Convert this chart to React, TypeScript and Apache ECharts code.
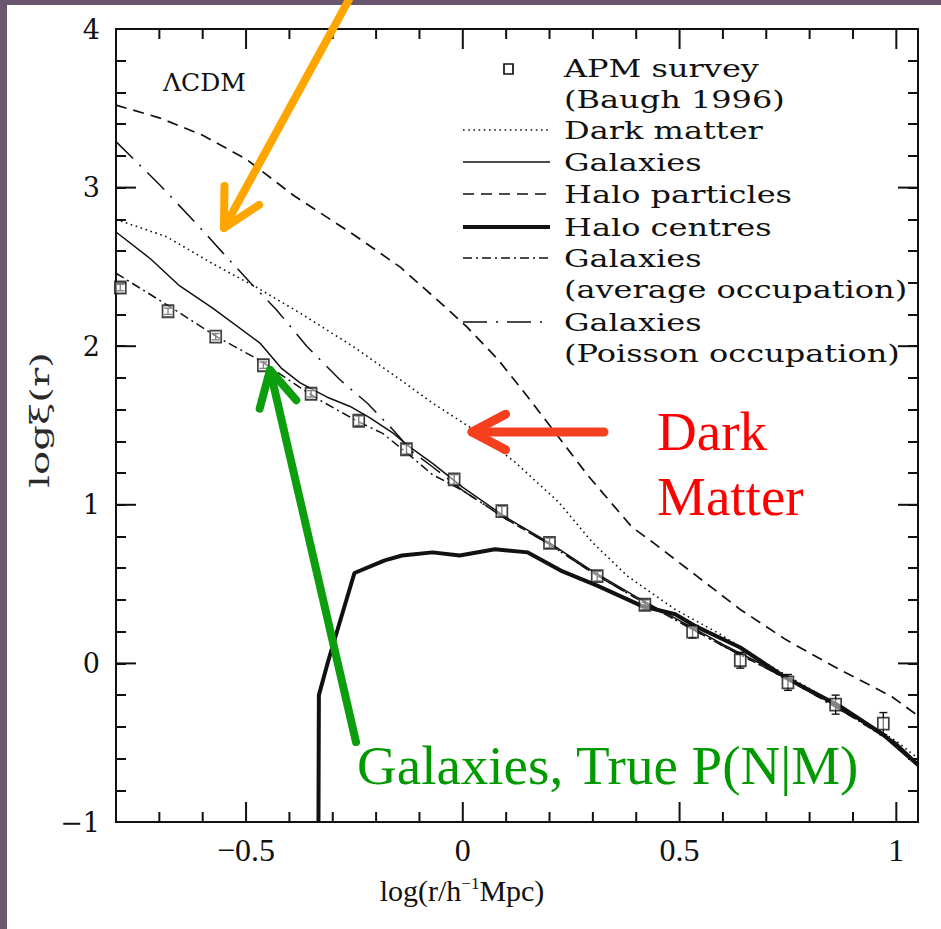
import React, { useEffect, useRef } from "react";
import * as echarts from "echarts";

// Axis ranges and tick positions
const X_MIN = -0.8;
const X_MAX = 1.05;
const Y_MIN = -1;
const Y_MAX = 4;
const xMajorTicks = [-0.5, 0, 0.5, 1];
const xMinorTicks = [-0.7, -0.6, -0.4, -0.3, -0.2, -0.1, 0.1, 0.2, 0.3, 0.4, 0.6, 0.7, 0.8, 0.9];
const yMajorTicks = [0, 1, 2, 3];
const xLabelValues = [-0.5, 0, 0.5, 1];
const yLabelValues = [-1, 0, 1, 2, 3, 4];

// APM survey (Baugh 1996)
const apmX = [-0.79, -0.68, -0.57, -0.46, -0.35, -0.24, -0.13, -0.02, 0.09, 0.2, 0.31, 0.42, 0.53, 0.64, 0.75, 0.86, 0.97];
const apmY = [2.37, 2.22, 2.06, 1.88, 1.7, 1.53, 1.35, 1.16, 0.96, 0.76, 0.55, 0.37, 0.2, 0.02, -0.12, -0.26, -0.38];
const apmErr = [0.02, 0.02, 0.02, 0.02, 0.02, 0.03, 0.03, 0.03, 0.03, 0.03, 0.03, 0.03, 0.04, 0.05, 0.05, 0.06, 0.07];

// Dark matter
const dmX = [-0.8, -0.683, -0.577, -0.475, -0.376, -0.254, -0.145, -0.069, 0.016, 0.12, 0.22, 0.3, 0.38, 0.49, 0.59, 0.7, 0.8, 0.9, 1.0, 1.05];
const dmY = [2.8, 2.69, 2.52, 2.37, 2.21, 2.0, 1.79, 1.64, 1.49, 1.27, 1.02, 0.76, 0.55, 0.34, 0.19, 0.0, -0.16, -0.32, -0.49, -0.6];

// Galaxies
const galX = [-0.8, -0.72, -0.653, -0.577, -0.468, -0.418, -0.376, -0.314, -0.26, -0.215, -0.16, -0.13, -0.069, 0.0, 0.1, 0.2, 0.3, 0.4, 0.5, 0.6, 0.7, 0.8, 0.9, 1.0, 1.05];
const galY = [2.72, 2.55, 2.38, 2.24, 2.02, 1.86, 1.77, 1.68, 1.62, 1.55, 1.45, 1.38, 1.26, 1.11, 0.92, 0.76, 0.58, 0.42, 0.27, 0.12, -0.02, -0.17, -0.33, -0.5, -0.63];

// Halo particles
const hpX = [-0.8, -0.7, -0.6, -0.5, -0.39, -0.25, -0.145, -0.05, 0.01, 0.08, 0.15, 0.22, 0.29, 0.39, 0.44, 0.54, 0.64, 0.745, 0.87, 0.99, 1.05];
const hpY = [3.52, 3.44, 3.33, 3.18, 2.95, 2.7, 2.5, 2.27, 2.12, 1.92, 1.68, 1.43, 1.18, 0.86, 0.76, 0.55, 0.34, 0.15, -0.04, -0.21, -0.33];

// Halo centres
const hcX = [-0.333, -0.332, -0.31, -0.25, -0.18, -0.14, -0.07, -0.007, 0.074, 0.15, 0.23, 0.31, 0.415, 0.49, 0.54, 0.64, 0.745, 0.87, 0.97, 1.05];
const hcY = [-1.0, -0.2, 0.02, 0.57, 0.65, 0.68, 0.7, 0.68, 0.72, 0.7, 0.58, 0.49, 0.36, 0.31, 0.23, 0.1, -0.09, -0.27, -0.45, -0.64];

// Galaxies (average occupation)
const avgX = [-0.8, -0.676, -0.568, -0.468, -0.376, -0.33, -0.245, -0.185, -0.13, -0.07, 0.0, 0.1, 0.2, 0.3, 0.4, 0.5, 0.6, 0.7, 0.8, 0.9, 1.0, 1.05];
const avgY = [2.46, 2.25, 2.06, 1.91, 1.74, 1.66, 1.53, 1.45, 1.33, 1.19, 1.09, 0.91, 0.75, 0.57, 0.41, 0.26, 0.11, -0.03, -0.18, -0.34, -0.51, -0.64];

// Galaxies (Poisson occupation)
const poiX = [-0.8, -0.7, -0.607, -0.554, -0.49, -0.43, -0.36, -0.284, -0.22, -0.16, -0.115, -0.07, 0.0, 0.1, 0.2, 0.3, 0.4, 0.5, 0.6, 0.7, 0.8, 0.9, 1.0, 1.05];
const poiY = [3.29, 3.02, 2.75, 2.59, 2.4, 2.23, 2.0, 1.79, 1.64, 1.47, 1.33, 1.24, 1.09, 0.91, 0.75, 0.57, 0.41, 0.26, 0.11, -0.03, -0.18, -0.34, -0.51, -0.64];

const legendLabels = [
  "APM survey",
  "(Baugh 1996)",
  "Dark matter",
  "Galaxies",
  "Halo particles",
  "Halo centres",
  "Galaxies",
  "(average occupation)",
  "Galaxies",
  "(Poisson occupation)",
];

const PURPLE = "#6b5670";
const INK = "#111";

const DASH_DM = [1.6, 3.6];
const DASH_HP = [11, 7];
const DASH_AVG = [9, 4, 2, 4];
const DASH_POI = [24, 9, 2, 9];

const zip = (xs: number[], ys: number[]) => xs.map((x, i) => [x, ys[i]]);
const fmt = (v: number) => (v < 0 ? "\u2212" + Math.abs(v) : String(v));

function xAxisDef(position: string, labels: boolean) {
  return {
    type: "value",
    min: X_MIN,
    max: X_MAX,
    position,
    axisLine: { show: true, onZero: false, lineStyle: { color: INK, width: 2 } },
    axisTick: { show: false },
    axisLabel: labels
      ? {
          show: true,
          customValues: xLabelValues,
          formatter: fmt,
          fontFamily: "Liberation Serif",
          fontSize: 32,
          color: INK,
          margin: 12,
        }
      : { show: false },
    splitLine: { show: false },
  };
}

// Minor y ticks come from the axis itself (0.2 steps counted from -1)
function yAxisDef(position: string, labels: boolean) {
  return {
    type: "value",
    min: Y_MIN,
    max: Y_MAX,
    interval: 0.2,
    position,
    axisLine: { show: true, onZero: false, lineStyle: { color: INK, width: 2 } },
    axisTick: { show: true, inside: true, length: 10, lineStyle: { color: INK, width: 2 } },
    axisLabel: labels
      ? {
          show: true,
          customValues: yLabelValues,
          formatter: fmt,
          fontFamily: "DejaVu Serif",
          fontSize: 27,
          color: INK,
          margin: 16,
        }
      : { show: false },
    splitLine: { show: false },
  };
}

// Remaining inward ticks, placed through the grid's own coordinate conversion
function tickGraphics(toPx: (p: number[]) => number[]) {
  const els: any[] = [];
  const line = (x1: number, y1: number, x2: number, y2: number) => ({
    type: "line",
    z: 40,
    shape: { x1, y1, x2, y2 },
    style: { stroke: INK, lineWidth: 2 },
  });
  const xTicks = (values: number[], len: number) =>
    values.forEach((v) => {
      const b = toPx([v, Y_MIN]);
      const t = toPx([v, Y_MAX]);
      els.push(line(b[0], b[1], b[0], b[1] - len));
      els.push(line(t[0], t[1], t[0], t[1] + len));
    });
  const yTicks = (values: number[], len: number) =>
    values.forEach((v) => {
      const l = toPx([X_MIN, v]);
      const r = toPx([X_MAX, v]);
      els.push(line(l[0], l[1], l[0] + len, l[1]));
      els.push(line(r[0], r[1], r[0] - len, r[1]));
    });
  xTicks(xMajorTicks, 20);
  xTicks(xMinorTicks, 10);
  yTicks(yMajorTicks, 20);
  return els;
}

function arrow(tail: number[], tip: number[], color: string, width: number, head: number) {
  const dx = tail[0] - tip[0];
  const dy = tail[1] - tip[1];
  const L = Math.hypot(dx, dy);
  const ux = dx / L;
  const uy = dy / L;
  const a = (28 * Math.PI) / 180;
  const rot = (s: number) => [
    tip[0] + head * (ux * Math.cos(s) - uy * Math.sin(s)),
    tip[1] + head * (ux * Math.sin(s) + uy * Math.cos(s)),
  ];
  return [
    {
      type: "line",
      z: 100,
      shape: { x1: tail[0], y1: tail[1], x2: tip[0], y2: tip[1] },
      style: { stroke: color, lineWidth: width, lineCap: "round" },
    },
    {
      type: "polyline",
      z: 100,
      shape: { points: [rot(a), tip, rot(-a)] },
      style: { stroke: color, fill: null, lineWidth: width, lineCap: "round", lineJoin: "round" },
    },
  ];
}

function legendGraphics() {
  const textX = 564;
  const rows = [68, 99, 130, 162, 194, 227, 258, 289, 322, 353];
  const els: any[] = [];
  legendLabels.forEach((t, i) => {
    els.push({
      type: "text",
      x: textX,
      y: rows[i],
      scaleX: 1.28,
      z: 50,
      style: { text: t, font: "25px 'DejaVu Serif'", fill: INK, verticalAlign: "middle", align: "left" },
    });
  });
  const x1 = 463;
  const x2 = 550;
  const sample = (y: number, lineWidth: number, lineDash: any) => ({
    type: "line",
    z: 50,
    shape: { x1, y1: y, x2, y2: y },
    style: { stroke: INK, lineWidth, lineDash },
  });
  els.push({
    type: "rect",
    z: 50,
    shape: { x: 504, y: 64, width: 9, height: 10 },
    style: { fill: "#fff", stroke: INK, lineWidth: 1.7 },
  });
  els.push(sample(rows[2], 1.5, DASH_DM));
  els.push(sample(rows[3], 1.5, null));
  els.push(sample(rows[4], 1.6, DASH_HP));
  els.push(sample(rows[5], 4, null));
  els.push(sample(rows[6], 1.5, DASH_AVG));
  els.push(sample(rows[8], 1.5, DASH_POI));
  return els;
}

function baseGraphics() {
  return [
    {
      type: "text",
      x: 163,
      y: 82,
      z: 50,
      style: { text: "\u039BCDM", font: "25px 'DejaVu Serif'", fill: INK, verticalAlign: "middle", align: "left" },
    },
    ...legendGraphics(),
    {
      type: "text",
      x: 462,
      y: 890,
      z: 50,
      style: {
        text: "log(r/h{sup|\u22121}Mpc)",
        font: "30px 'Liberation Serif'",
        fill: INK,
        align: "center",
        verticalAlign: "middle",
        rich: { sup: { fontSize: 17, verticalAlign: "top", padding: [0, 0, 14, 0], fontFamily: "Liberation Serif" } },
      },
    },
    {
      type: "text",
      x: 40,
      y: 420,
      rotation: Math.PI / 2,
      scaleX: 1.55,
      z: 50,
      style: { text: "log\u03BE(r)", font: "26px 'DejaVu Serif'", fill: "#2a2a2a", align: "center", verticalAlign: "middle" },
    },
    ...arrow([352, -6], [224, 228], "#ffa500", 8, 42),
    ...arrow([604, 432], [472, 432], "#f4401f", 9, 38),
    ...arrow([356, 742], [270, 370], "#0c9e0c", 8, 40),
    {
      type: "text",
      x: 657,
      y: 431,
      z: 60,
      style: { text: "Dark", font: "55px 'Liberation Serif'", fill: "#ff0000", align: "left", verticalAlign: "middle" },
    },
    {
      type: "text",
      x: 657,
      y: 496,
      z: 60,
      style: { text: "Matter", font: "55px 'Liberation Serif'", fill: "#ff0000", align: "left", verticalAlign: "middle" },
    },
    {
      type: "text",
      x: 357,
      y: 765,
      z: 60,
      style: {
        text: "Galaxies, True P(N|M)",
        font: "55px 'Liberation Serif'",
        fill: "#009a00",
        align: "left",
        verticalAlign: "middle",
      },
    },
  ];
}

function buildOption() {
  const lineSeries = (name: string, xs: number[], ys: number[], width: number, type: any) => ({
    name,
    type: "line",
    data: zip(xs, ys),
    showSymbol: false,
    symbol: "none",
    smooth: false,
    clip: true,
    lineStyle: { color: INK, width, type },
    z: 3,
  });

  return {
    animation: false,
    grid: { left: 116, top: 29, width: 802, height: 793, containLabel: false },
    xAxis: [xAxisDef("bottom", true), xAxisDef("top", false)],
    yAxis: [yAxisDef("left", true), yAxisDef("right", false)],
    series: [
      lineSeries("Dark matter", dmX, dmY, 1.6, DASH_DM),
      lineSeries("Galaxies", galX, galY, 1.5, "solid"),
      lineSeries("Halo particles", hpX, hpY, 1.7, DASH_HP),
      lineSeries("Halo centres", hcX, hcY, 4, "solid"),
      lineSeries("Galaxies (average occupation)", avgX, avgY, 1.5, DASH_AVG),
      lineSeries("Galaxies (Poisson occupation)", poiX, poiY, 1.5, DASH_POI),
      {
        name: "APM errors",
        type: "custom",
        z: 4,
        data: apmX.map((x, i) => [x, apmY[i], apmErr[i]]),
        renderItem: (_p: any, api: any) => {
          const x = api.value(0);
          const y = api.value(1);
          const e = api.value(2);
          const top = api.coord([x, y + e]);
          const bot = api.coord([x, y - e]);
          const st = { stroke: INK, lineWidth: 1.4 };
          return {
            type: "group",
            children: [
              { type: "line", shape: { x1: top[0], y1: top[1], x2: bot[0], y2: bot[1] }, style: st },
              { type: "line", shape: { x1: top[0] - 4, y1: top[1], x2: top[0] + 4, y2: top[1] }, style: st },
              { type: "line", shape: { x1: bot[0] - 4, y1: bot[1], x2: bot[0] + 4, y2: bot[1] }, style: st },
            ],
          };
        },
      },
      {
        name: "APM survey",
        type: "scatter",
        data: zip(apmX, apmY),
        symbol: "rect",
        symbolSize: [11, 12],
        itemStyle: { color: "rgba(255,255,255,0.6)", borderColor: INK, borderWidth: 1.8 },
        z: 5,
      },
    ],
    graphic: baseGraphics(),
  };
}

export default function App() {
  const ref = useRef<HTMLDivElement>(null);
  useEffect(() => {
    document.body.style.margin = "0";
    const chart = echarts.init(ref.current as HTMLDivElement, null, { renderer: "svg" });
    chart.setOption(buildOption() as any);
    const toPx = (p: number[]) => chart.convertToPixel({ gridIndex: 0 }, p) as number[];
    chart.setOption({ graphic: [...baseGraphics(), ...tickGraphics(toPx)] } as any);
    return () => chart.dispose();
  }, []);
  return (
    <div style={{ position: "relative", width: 941, height: 929, background: PURPLE, overflow: "hidden" }}>
      <div style={{ position: "absolute", left: 7, top: 5, right: 0, bottom: 0, background: "#fff" }} />
      <div ref={ref} style={{ position: "absolute", left: 0, top: 0, width: 941, height: 929 }} />
    </div>
  );
}
